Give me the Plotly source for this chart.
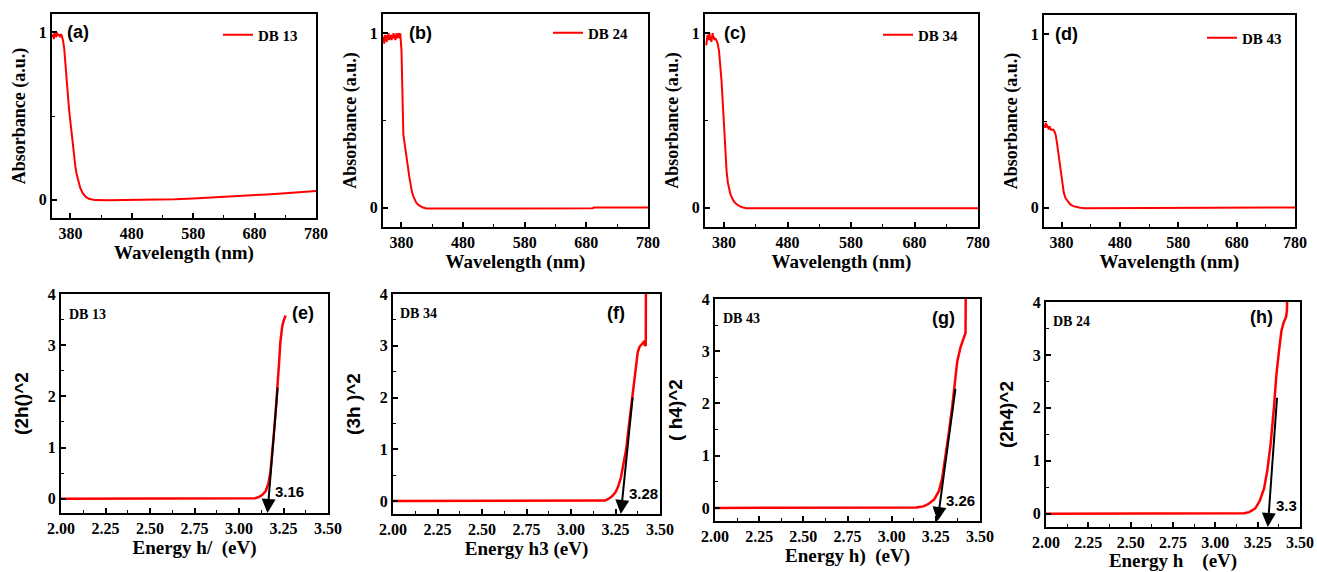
import plotly.graph_objects as go

# ---------------- DATA ----------------
# Top row: UV-vis absorbance vs wavelength
wl_a = [351, 352, 353, 354, 355, 356, 357, 358, 359, 360, 361, 362, 363, 364, 366, 368, 370, 372, 374, 376, 378,
        380, 382, 384, 386, 388, 390, 393, 396, 400, 405, 410, 415, 420, 440, 480, 520, 550, 580, 610, 640, 670,
        700, 730, 760, 780]
abs_a = [0.97, 0.99, 0.96, 1.0, 0.98, 0.99, 0.97, 1.0, 0.98, 0.99, 0.98, 0.99, 0.97, 0.99, 0.98, 0.95, 0.9, 0.82,
         0.72, 0.62, 0.53, 0.46, 0.38, 0.31, 0.25, 0.2, 0.155, 0.105, 0.07, 0.038, 0.016, 0.005, 0.0, -0.003, -0.004,
         -0.003, -0.001, 0.002, 0.007, 0.012, 0.018, 0.024, 0.031, 0.038, 0.046, 0.052]

wl_b = [350, 351, 352, 353, 354, 355, 356, 357, 358, 359, 360, 361, 362, 363, 364, 365, 366, 367, 368, 369, 370,
        371, 372, 373, 374, 375, 376, 377, 378, 380, 381.5, 383, 385, 387, 389, 391, 393, 395, 397, 400, 404, 408,
        414, 420, 500, 600, 690, 692, 780]
abs_b = [0.95, 0.98, 0.94, 0.99, 0.96, 0.98, 0.95, 0.99, 0.97, 1.0, 0.96, 0.98, 0.97, 0.99, 0.96, 0.98, 0.97,
         1.0, 0.97, 0.99, 0.96, 0.98, 1.0, 0.97, 0.99, 0.98, 1.0, 0.97, 1.0, 0.9, 0.7, 0.42, 0.37, 0.31, 0.26, 0.22,
         0.17, 0.12, 0.09, 0.06, 0.03, 0.015, 0.003, -0.004, -0.004, -0.004, -0.003, 0.001, 0.002]

wl_c = [352, 353, 354, 355, 356, 357, 358, 359, 360, 361, 362, 363, 364, 365, 366, 368, 370, 372, 374, 376, 378,
        380, 382, 384, 386, 388, 390, 393, 396, 400, 405, 410, 415, 450, 550, 650, 780]
abs_c = [0.93, 0.97, 0.99, 0.96, 0.98, 1.0, 0.96, 0.98, 0.95, 0.99, 1.0, 0.97, 0.98, 0.96, 0.97, 0.96, 0.94, 0.9,
         0.83, 0.73, 0.6, 0.44, 0.31, 0.21, 0.145, 0.105, 0.078, 0.053, 0.034, 0.02, 0.008, 0.002, -0.002, -0.002,
         -0.002, -0.002, -0.002]

wl_d = [351, 352, 353, 354, 355, 356, 357, 358, 359, 360, 361, 362, 364, 366, 368, 370, 372, 374, 376, 378, 380,
        382, 384, 387, 391, 395, 400, 405, 412, 420, 500, 600, 700, 702, 780]
abs_d = [0.48, 0.46, 0.49, 0.47, 0.48, 0.46, 0.47, 0.45, 0.47, 0.46, 0.46, 0.45, 0.45, 0.45, 0.44, 0.42, 0.38,
         0.33, 0.27, 0.22, 0.17, 0.12, 0.085, 0.055, 0.035, 0.02, 0.01, 0.005, 0.001, -0.002, -0.002, -0.002,
         -0.002, 0.001, 0.002]

top_names = ["DB 13", "DB 24", "DB 34", "DB 43"]
top_letters = ["(a)", "(b)", "(c)", "(d)"]

# Bottom row: Tauc plots
E_e = [2.00, 2.50, 3.00, 3.06, 3.09, 3.11, 3.13, 3.15, 3.165, 3.176, 3.185, 3.195, 3.205, 3.218, 3.225, 3.232,
       3.238, 3.243, 3.25, 3.256, 3.262]
T_e = [0, 0, 0, 0.0, 0.01, 0.03, 0.07, 0.15, 0.3, 0.5, 0.8, 1.23, 1.66, 2.2, 2.65, 3.05, 3.25, 3.37, 3.47, 3.53,
       3.58]

E_f = [2.00, 2.50, 3.00, 3.16, 3.19, 3.21, 3.23, 3.25, 3.265, 3.28, 3.295, 3.31, 3.325, 3.343, 3.355, 3.365,
       3.375, 3.385, 3.397, 3.408, 3.414, 3.418, 3.42, 3.421]
T_f = [0, 0, 0, 0, 0.01, 0.04, 0.09, 0.17, 0.28, 0.45, 0.7, 1.0, 1.45, 2.0, 2.38, 2.68, 2.88, 2.98, 3.04, 3.07,
       3.02, 3.0, 3.0, 4.5]

E_g = [2.00, 2.50, 3.00, 3.10, 3.14, 3.18, 3.21, 3.24, 3.267, 3.286, 3.305, 3.324, 3.343, 3.358, 3.371, 3.39,
       3.405, 3.418, 3.42]
T_g = [0, 0, 0, 0, 0.01, 0.03, 0.08, 0.16, 0.32, 0.57, 0.97, 1.45, 1.95, 2.35, 2.8, 3.08, 3.25, 3.35, 4.5]

E_h = [2.00, 2.50, 3.00, 3.15, 3.17, 3.20, 3.236, 3.263, 3.288, 3.307, 3.326, 3.346, 3.36, 3.375, 3.39, 3.404,
       3.418, 3.423, 3.426]
T_h = [0, 0, 0, 0, 0.01, 0.03, 0.1, 0.25, 0.48, 0.82, 1.3, 2.0, 2.6, 3.05, 3.45, 3.62, 3.72, 3.85, 4.5]

bottom_names = ["DB 13", "DB 34", "DB 43", "DB 24"]
bottom_letters = ["(e)", "(f)", "(g)", "(h)"]
bottom_ytitles = ["(2h()^2", "(3h )^2", "( h4)^2", "(2h4)^2"]
bottom_xtitles = ["Energy h/  (eV)", "Energy h3 (eV)", "Energy h)  (eV)", "Energy h    (eV)"]

# band-gap tangent lines: tip on energy axis, upper end on the curve
gap_values = [3.16, 3.28, 3.26, 3.31]
gap_labels = ["3.16", "3.28", "3.26", "3.3"]
tangent_top_E = [3.218, 3.347, 3.362, 3.365]
tangent_top_T = [2.2, 2.03, 2.31, 2.22]
bottom_ymin = [-0.28, -0.25, -0.25, -0.25]

# ---------------- LAYOUT HELPERS ----------------
W, H = 1317, 572
top_boxes = [(52, 316, 14, 218), (383, 648, 14, 227), (705, 978, 14, 227), (1044, 1295, 15, 227)]
bot_boxes = [(61, 328, 294, 513), (393, 660, 294, 514), (715, 980, 299, 521), (1046, 1300, 302, 527)]


def dom(box):
    x0, x1, y0, y1 = box
    return [x0 / W, x1 / W], [1 - y1 / H, 1 - y0 / H]


RED = "#ff0000"
SERIF = "Liberation Serif"
SANS = "Liberation Sans"

axis_common = dict(showline=True, linecolor="black", linewidth=2, mirror=True, ticks="inside",
                   ticklen=5, tickwidth=1.5, tickcolor="black", showgrid=False, zeroline=False,
                   automargin=False, ticklabeloverflow="allow")

fig = go.Figure()
layout = dict(width=W, height=H, margin=dict(l=0, r=0, t=0, b=0), template="none",
              paper_bgcolor="white", plot_bgcolor="white", showlegend=True)
annotations = []

top_x = [wl_a, wl_b, wl_c, wl_d]
top_y = [abs_a, abs_b, abs_c, abs_d]
legend_pos = [(218, 35), (548, 33), (878, 35), (1202, 38)]

for i in range(4):
    n = i + 1
    xa = "x" if n == 1 else f"x{n}"
    ya = "y" if n == 1 else f"y{n}"
    lg = "legend" if n == 1 else f"legend{n}"
    fig.add_trace(go.Scatter(x=top_x[i], y=top_y[i], mode="lines", name=top_names[i],
                             line=dict(color=RED, width=2), xaxis=xa, yaxis=ya, legend=lg,
                             showlegend=True))
    dx, dy = dom(top_boxes[i])
    layout[f"xaxis{n if n > 1 else ''}"] = dict(
        axis_common, domain=dx, anchor=ya, range=[350, 780], tick0=380, dtick=100,
        minor=dict(tick0=380, dtick=50, ticks="inside", ticklen=3, tickwidth=1.2, tickcolor="black"),
        tickfont=dict(family=SERIF, size=16, color="black", weight="bold"),
        title=dict(text="Wavelength (nm)", font=dict(family=SERIF, size=19, color="black", weight="bold"),
                   standoff=4))
    layout[f"yaxis{n if n > 1 else ''}"] = dict(
        axis_common, domain=dy, anchor=xa, range=[-0.11, 1.11], tick0=0, dtick=1,
        minor=dict(tick0=0, dtick=0.5, ticks="inside", ticklen=3, tickwidth=1.2, tickcolor="black"),
        tickfont=dict(family=SERIF, size=16, color="black", weight="bold"),
        title=dict(text="Absorbance (a.u.)", font=dict(family=SERIF, size=18, color="black", weight="bold"),
                   standoff=8))
    lx, ly = legend_pos[i]
    layout[lg] = dict(x=lx / W, y=1 - ly / H, xanchor="left", yanchor="middle", bgcolor="rgba(0,0,0,0)",
                      borderwidth=0, font=dict(family=SERIF, size=15, color="black", weight="bold"),
                      itemwidth=30)
    letter_pos = [0.10, 0.142, 0.11, 0.09][i]
    annotations.append(dict(text=top_letters[i], xref=f"{xa} domain", yref=f"{ya} domain",
                            x=letter_pos, y=0.91, xanchor="center", yanchor="middle", showarrow=False,
                            font=dict(family=SANS, size=18, color="black", weight="bold")))

bot_x = [E_e, E_f, E_g, E_h]
bot_y = [T_e, T_f, T_g, T_h]
name_pos = [(87, 314), (419, 313), (741, 318), (1071, 321)]
letter_pos_b = [(303, 313), (616, 313), (943, 318), (1261, 317)]
xtitle_standoff = [4, 4, 4, 2]

for i in range(4):
    n = i + 5
    xa, ya = f"x{n}", f"y{n}"
    fig.add_trace(go.Scatter(x=bot_x[i], y=bot_y[i], mode="lines", name=bottom_names[i],
                             line=dict(color=RED, width=2.5), xaxis=xa, yaxis=ya, showlegend=False,
                             cliponaxis=True))
    dx, dy = dom(bot_boxes[i])
    layout[f"xaxis{n}"] = dict(
        axis_common, domain=dx, anchor=ya, range=[2.0, 3.5], tick0=2.0, dtick=0.25, tickformat=".2f",
        minor=dict(tick0=2.0, dtick=0.125, ticks="inside", ticklen=3, tickwidth=1.2, tickcolor="black"),
        tickfont=dict(family=SERIF, size=16, color="black", weight="bold"),
        title=dict(text=bottom_xtitles[i], font=dict(family=SERIF, size=19, color="black", weight="bold"),
                   standoff=xtitle_standoff[i]))
    layout[f"yaxis{n}"] = dict(
        axis_common, domain=dy, anchor=xa, range=[bottom_ymin[i], 4.0], tick0=0, dtick=1,
        minor=dict(tick0=0, dtick=0.5, ticks="inside", ticklen=3, tickwidth=1.2, tickcolor="black"),
        tickfont=dict(family=SERIF, size=16, color="black", weight="bold"),
        title=dict(text=bottom_ytitles[i], font=dict(family=SANS, size=19, color="black", weight="bold"),
                   standoff=14))
    # tangent line with arrow down to the energy axis
    annotations.append(dict(x=gap_values[i], y=bottom_ymin[i], ax=tangent_top_E[i], ay=tangent_top_T[i],
                            xref=xa, yref=ya, axref=xa, ayref=ya, text="", showarrow=True,
                            arrowhead=2, arrowsize=1.4, arrowwidth=2, arrowcolor="black", standoff=0))
    annotations.append(dict(x=gap_values[i], y=0.15, xref=xa, yref=ya, text=gap_labels[i], showarrow=False,
                            xanchor="left", yanchor="middle", xshift=6,
                            font=dict(family=SANS, size=15, color="black", weight="bold")))
    px_, py_ = name_pos[i]
    annotations.append(dict(text=bottom_names[i], xref="paper", yref="paper", x=px_ / W, y=1 - py_ / H,
                            xanchor="center", yanchor="middle", showarrow=False,
                            font=dict(family=SERIF, size=14, color="black", weight="bold")))
    px_, py_ = letter_pos_b[i]
    annotations.append(dict(text=bottom_letters[i], xref="paper", yref="paper", x=px_ / W, y=1 - py_ / H,
                            xanchor="center", yanchor="middle", showarrow=False,
                            font=dict(family=SANS, size=18, color="black", weight="bold")))

layout["annotations"] = annotations
fig.update_layout(**layout)
fig.write_html("out.html", config={"displayModeBar": False},
               post_script="document.body.style.margin='0';document.body.style.overflow='hidden';"
                           "document.documentElement.style.overflow='hidden';")
